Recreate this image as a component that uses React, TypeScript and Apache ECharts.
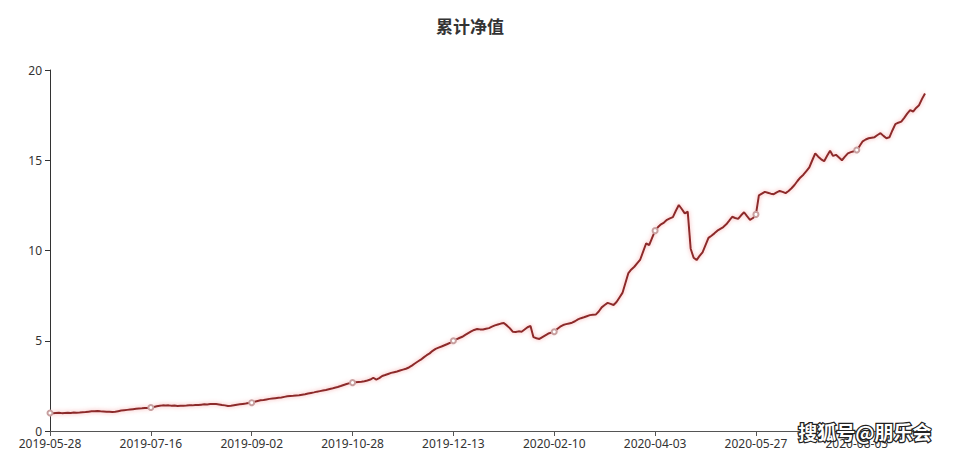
import React, { useEffect, useRef } from "react";
import * as echarts from "echarts";

const titleText = "累计净值";
const watermark = "搜狐号@朋乐会";

const dates: string[] = [
  "2019-05-28","2019-05-29","2019-05-30","2019-05-31","2019-06-03","2019-06-04","2019-06-05","2019-06-06",
  "2019-06-10","2019-06-11","2019-06-12","2019-06-13","2019-06-14","2019-06-17","2019-06-18","2019-06-19",
  "2019-06-20","2019-06-21","2019-06-24","2019-06-25","2019-06-26","2019-06-27","2019-06-28","2019-07-01",
  "2019-07-02","2019-07-03","2019-07-04","2019-07-05","2019-07-08","2019-07-09","2019-07-10","2019-07-11",
  "2019-07-12","2019-07-15",
  "2019-07-16","2019-07-17","2019-07-18","2019-07-19","2019-07-22","2019-07-23","2019-07-24","2019-07-25",
  "2019-07-26","2019-07-29","2019-07-30","2019-07-31","2019-08-01","2019-08-02","2019-08-05","2019-08-06",
  "2019-08-07","2019-08-08","2019-08-09","2019-08-12","2019-08-13","2019-08-14","2019-08-15","2019-08-16",
  "2019-08-19","2019-08-20","2019-08-21","2019-08-22","2019-08-23","2019-08-26","2019-08-27","2019-08-28",
  "2019-08-29","2019-08-30",
  "2019-09-02","2019-09-03","2019-09-04","2019-09-05","2019-09-06","2019-09-09","2019-09-10","2019-09-11",
  "2019-09-12","2019-09-16","2019-09-17","2019-09-18","2019-09-19","2019-09-20","2019-09-23","2019-09-24",
  "2019-09-25","2019-09-26","2019-09-27","2019-09-30","2019-10-08","2019-10-09","2019-10-10","2019-10-11",
  "2019-10-14","2019-10-15","2019-10-16","2019-10-17","2019-10-18","2019-10-21","2019-10-22","2019-10-23",
  "2019-10-24","2019-10-25",
  "2019-10-28","2019-10-29","2019-10-30","2019-10-31","2019-11-01","2019-11-04","2019-11-05","2019-11-06",
  "2019-11-07","2019-11-08","2019-11-11","2019-11-12","2019-11-13","2019-11-14","2019-11-15","2019-11-18",
  "2019-11-19","2019-11-20","2019-11-21","2019-11-22","2019-11-25","2019-11-26","2019-11-27","2019-11-28",
  "2019-11-29","2019-12-02","2019-12-03","2019-12-04","2019-12-05","2019-12-06","2019-12-09","2019-12-10",
  "2019-12-11","2019-12-12",
  "2019-12-13","2019-12-16","2019-12-17","2019-12-18","2019-12-19","2019-12-20","2019-12-23","2019-12-24",
  "2019-12-25","2019-12-26","2019-12-27","2019-12-30","2019-12-31","2020-01-02","2020-01-03","2020-01-06",
  "2020-01-07","2020-01-08","2020-01-09","2020-01-10","2020-01-13","2020-01-14","2020-01-15","2020-01-16",
  "2020-01-17","2020-01-20","2020-01-21","2020-01-22","2020-01-23","2020-02-03","2020-02-04","2020-02-05",
  "2020-02-06","2020-02-07",
  "2020-02-10","2020-02-11","2020-02-12","2020-02-13","2020-02-17","2020-02-18","2020-02-19","2020-02-20",
  "2020-02-24","2020-02-25","2020-02-26","2020-02-27","2020-03-02","2020-03-03","2020-03-04","2020-03-05",
  "2020-03-09","2020-03-10","2020-03-11","2020-03-12","2020-03-16","2020-03-17","2020-03-18","2020-03-19",
  "2020-03-20","2020-03-23","2020-03-24","2020-03-25","2020-03-26","2020-03-27","2020-03-30","2020-03-31",
  "2020-04-01","2020-04-02",
  "2020-04-03","2020-04-07","2020-04-08","2020-04-09","2020-04-10","2020-04-13","2020-04-14","2020-04-15",
  "2020-04-16","2020-04-17","2020-04-20","2020-04-21","2020-04-22","2020-04-23","2020-04-24","2020-04-27",
  "2020-04-28","2020-04-29","2020-04-30","2020-05-06","2020-05-07","2020-05-08","2020-05-11","2020-05-12",
  "2020-05-13","2020-05-14","2020-05-15","2020-05-18","2020-05-19","2020-05-20","2020-05-21","2020-05-22",
  "2020-05-25","2020-05-26",
  "2020-05-27","2020-05-28","2020-05-29","2020-06-01","2020-06-02","2020-06-03","2020-06-04","2020-06-05",
  "2020-06-08","2020-06-09","2020-06-10","2020-06-11","2020-06-12","2020-06-15","2020-06-16","2020-06-17",
  "2020-06-18","2020-06-19","2020-07-06","2020-07-07","2020-07-08","2020-07-09","2020-07-10","2020-07-13",
  "2020-07-14","2020-07-15","2020-07-16","2020-07-17","2020-07-27","2020-07-28","2020-07-29","2020-07-30",
  "2020-07-31","2020-08-04",
  "2020-08-05","2020-08-06","2020-08-07","2020-08-10","2020-08-11","2020-08-12","2020-08-13","2020-08-14",
  "2020-08-17","2020-08-18","2020-08-19","2020-08-20","2020-08-21","2020-08-24","2020-08-25","2020-08-26",
  "2020-08-27","2020-08-28","2020-08-31","2020-09-01","2020-09-02","2020-09-03","2020-09-04","2020-09-07",
];

const navValues: number[] = [
  1.00, 0.99, 1.00, 1.01, 0.99, 1.00, 1.01, 1.00, 1.02, 1.01,
  1.02, 1.04, 1.05, 1.07, 1.09, 1.10, 1.11, 1.09, 1.08, 1.07,
  1.06, 1.05, 1.07, 1.10, 1.13, 1.15, 1.17, 1.19, 1.21, 1.23,
  1.25, 1.26, 1.28, 1.27, 1.30, 1.33, 1.37, 1.40, 1.42, 1.41,
  1.42, 1.40, 1.41, 1.39, 1.40, 1.40, 1.41, 1.43, 1.42, 1.44,
  1.44, 1.46, 1.48, 1.47, 1.49, 1.50, 1.49, 1.47, 1.44, 1.42,
  1.38, 1.40, 1.43, 1.46, 1.48, 1.50, 1.52, 1.55, 1.57, 1.62,
  1.66, 1.70, 1.72, 1.75, 1.78, 1.80, 1.82, 1.84, 1.86, 1.89,
  1.92, 1.94, 1.95, 1.97, 1.98, 2.01, 2.04, 2.08, 2.11, 2.14,
  2.18, 2.21, 2.24, 2.27, 2.31, 2.35, 2.40, 2.44, 2.49, 2.55,
  2.60, 2.65, 2.68, 2.70, 2.72, 2.73, 2.76, 2.80, 2.85, 2.95,
  2.85, 2.93, 3.05, 3.10, 3.16, 3.22, 3.26, 3.30, 3.35, 3.40,
  3.45, 3.52, 3.62, 3.74, 3.85, 3.95, 4.08, 4.20, 4.30, 4.44,
  4.55, 4.62, 4.68, 4.75, 4.82, 4.90, 5.00, 5.08, 5.15, 5.22,
  5.32, 5.42, 5.52, 5.60, 5.65, 5.63, 5.62, 5.66, 5.70, 5.78,
  5.85, 5.90, 5.95, 5.98, 5.85, 5.70, 5.50, 5.48, 5.52, 5.50,
  5.62, 5.75, 5.82, 5.20, 5.14, 5.10, 5.20, 5.30, 5.40, 5.45,
  5.50, 5.65, 5.78, 5.87, 5.92, 5.96, 6.00, 6.08, 6.18, 6.25,
  6.30, 6.36, 6.42, 6.44, 6.45, 6.62, 6.85, 6.98, 7.10, 7.04,
  6.98, 7.15, 7.40, 7.65, 8.20, 8.75, 8.95, 9.10, 9.30, 9.50,
  9.95, 10.40, 10.30, 10.70, 11.10, 11.30, 11.45, 11.55, 11.70, 11.78,
  11.85, 12.20, 12.52, 12.30, 12.06, 12.15, 10.10, 9.60, 9.47, 9.70,
  9.90, 10.30, 10.70, 10.82, 10.95, 11.10, 11.20, 11.30, 11.45, 11.65,
  11.87, 11.80, 11.75, 11.95, 12.12, 11.90, 11.70, 11.80, 12.00, 13.05,
  13.15, 13.25, 13.20, 13.15, 13.12, 13.22, 13.30, 13.25, 13.18, 13.30,
  13.45, 13.63, 13.85, 14.05, 14.20, 14.40, 14.60, 15.00, 15.38, 15.20,
  15.05, 14.95, 15.25, 15.53, 15.24, 15.30, 15.15, 15.00, 15.20, 15.38,
  15.45, 15.50, 15.57, 15.80, 16.05, 16.15, 16.22, 16.25, 16.28, 16.40,
  16.50, 16.35, 16.22, 16.27, 16.65, 17.00, 17.08, 17.14, 17.35, 17.58,
  17.78, 17.70, 17.90, 18.05, 18.40, 18.70,
];

const yMin = 0;
const yMax = 20;
const yInterval = 5;

export default function App() {
  const ref = useRef<HTMLDivElement>(null);
  useEffect(() => {
    if (!ref.current) return;
    const chart = echarts.init(ref.current, null, { renderer: "svg" });
    const font = "'Noto Sans', 'Noto Sans CJK SC', sans-serif";
    chart.setOption({
      animation: false,
      backgroundColor: "#ffffff",
      textStyle: { fontFamily: font },
      title: {
        text: titleText,
        left: 431,
        top: 12,
        textStyle: { fontSize: 17, fontWeight: "bold", color: "#333", fontFamily: "'Noto Sans CJK SC', sans-serif" },
      },
      grid: { left: 50, right: 31, top: 70, bottom: 23, containLabel: false },
      xAxis: {
        type: "category",
        data: dates,
        boundaryGap: false,
        axisLine: { lineStyle: { color: "#555", width: 1 } },
        axisTick: { show: true, interval: 33, length: 5, lineStyle: { color: "#555" } },
        axisLabel: { interval: 33, color: "#333", fontSize: 12, margin: 6 },
        splitLine: { show: false },
      },
      yAxis: {
        type: "value",
        min: yMin,
        max: yMax,
        interval: yInterval,
        axisLine: { show: true, lineStyle: { color: "#333", width: 1 } },
        axisTick: { show: true, length: 5, lineStyle: { color: "#333" } },
        axisLabel: { color: "#333", fontSize: 12, margin: 8 },
        splitLine: { show: false },
      },
      series: [
        {
          type: "line",
          name: titleText,
          data: navValues,
          showSymbol: true,
          showAllSymbol: "auto",
          symbol: "emptyCircle",
          symbolSize: 5,
          itemStyle: { color: "#c8a0a0", borderWidth: 1 },
          lineStyle: {
            color: "#8c2a2a",
            width: 2,
            shadowColor: "rgba(240,110,110,0.6)",
            shadowBlur: 4,
          },
        },
      ],
      graphic: [
        {
          type: "text",
          left: 797,
          top: 421,
          z: 100,
          style: {
            text: watermark,
            fill: "#ffffff",
            stroke: "#222",
            lineWidth: 2.5,
            fontSize: 19,
            fontWeight: "bold",
            fontFamily: "'Noto Sans CJK SC', sans-serif",
          },
        },
      ],
    });
    return () => chart.dispose();
  }, []);
  return (
    <div
      ref={ref}
      style={{ position: "absolute", left: 0, top: 0, width: 956, height: 454 }}
    />
  );
}
